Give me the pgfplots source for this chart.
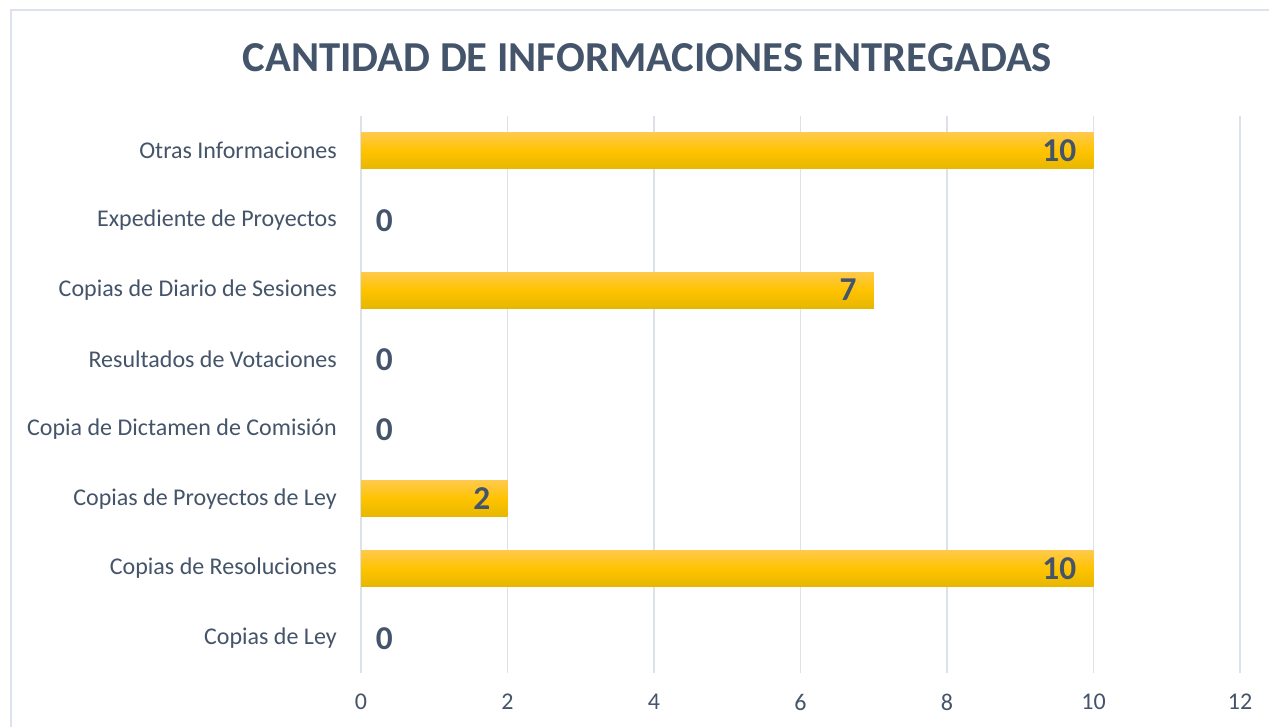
\documentclass[border=0pt]{standalone}
\usepackage{fontspec}
\setmainfont{Carlito}
\usepackage{pgfplots}
\pgfplotsset{compat=1.18}
\definecolor{txt}{HTML}{44546A}
\definecolor{grd}{HTML}{DDE1E8}
\definecolor{frm}{HTML}{DDE3EC}
\definecolor{bartop}{HTML}{FFC94A}
\definecolor{barmid}{HTML}{FFC300}
\definecolor{barbot}{HTML}{E6B700}
\pgfplotsset{
  goldbar/.style={xbar, bar width=27pt, bar shift=0pt, draw=none, shading=axis,
    top color=bartop, bottom color=barbot, middle color=barmid,
    nodes near coords, point meta=x,
    every node near coord/.append style={anchor=east, xshift=-12.75pt, inner sep=0pt,
      font=\fontsize{25}{30}\selectfont\bfseries, text=txt}},
}
\begin{document}
\begin{tikzpicture}
\useasboundingbox (0,0) rectangle (951.75pt,-544.5pt);
\fill[white] (0,0) rectangle (951.75pt,-544.5pt);
\draw[frm, line width=1.5pt] (8.25pt,-7.5pt) rectangle (970pt,-570pt);
\node[font=\fontsize{32}{38}\selectfont\bfseries, text=txt] at (485.6pt,-43.5pt) {CANTIDAD DE INFORMACIONES ENTREGADAS};
\begin{axis}[
  at={(270.75pt,-504.75pt)}, anchor=south west,
  scale only axis, width=659.25pt, height=417.75pt,
  xmin=0, xmax=12, ymin=-0.5, ymax=7.5,
  xtick={0,2,...,12}, ytick={0,...,7},
  yticklabels={Copias de Ley, Copias de Resoluciones, Copias de Proyectos de Ley, Copia de Dictamen de Comisión, Resultados de Votaciones, Copias de Diario de Sesiones, Expediente de Proyectos, {Otras Informaciones\ }},
  axis line style={draw=none},
  major tick length=0pt,
  xmajorgrids, major grid style={grd, line width=1.2pt},
  /pgf/number format/assume math mode=true,
  tick label style={font=\fontsize{18}{22}\selectfont, text=txt, inner sep=0pt},
  yticklabel style={anchor=east, xshift=-18pt},
  xticklabel style={anchor=north, yshift=-15.5pt},
  clip=false,
]
\addplot[goldbar] coordinates {(10,1)};
\addplot[goldbar] coordinates {(2,2)};
\addplot[goldbar] coordinates {(7,5)};
\addplot[goldbar] coordinates {(10,7)};
\addplot[draw=none, mark=none,
  nodes near coords, point meta=x,
  every node near coord/.append style={anchor=west, xshift=11pt, inner sep=0pt, font=\fontsize{25}{30}\selectfont\bfseries, text=txt}]
  coordinates {(0,0) (0,3) (0,4) (0,6)};
\end{axis}
\end{tikzpicture}
\end{document}
